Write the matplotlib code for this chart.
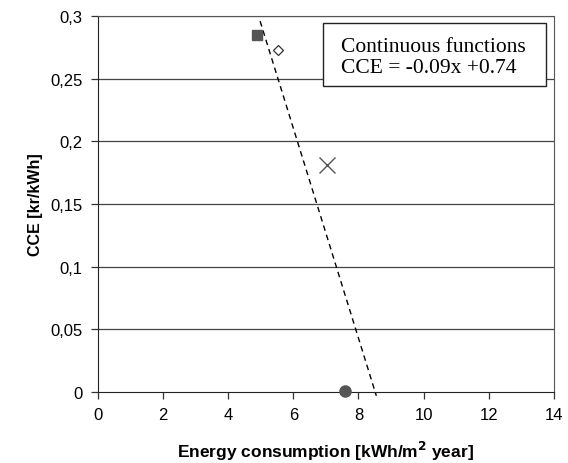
import matplotlib
matplotlib.use("Agg")
import matplotlib.pyplot as plt
from matplotlib.patches import Rectangle

# data
square_x, square_y = [4.88], [0.285]
diamond_x, diamond_y = [5.53], [0.273]
cross_x, cross_y = [7.03], [0.181]
circle_x, circle_y = [7.58], [0.001]

trend_x = [4.98, 8.55]
trend_y = [0.296, -0.003]

x_ticks = [0, 2, 4, 6, 8, 10, 12, 14]
y_ticks = [0, 0.05, 0.1, 0.15, 0.2, 0.25, 0.3]
y_labels = ["0", "0,05", "0,1", "0,15", "0,2", "0,25", "0,3"]

plt.rcParams["font.family"] = ["Liberation Sans", "DejaVu Sans"]

fig = plt.figure(figsize=(5.68, 4.64), dpi=100)
ax = fig.add_axes([0.1725, 0.153, 0.8025, 0.81])

for yv in y_ticks[1:]:
    ax.axhline(yv, color="#444444", linewidth=0.9, zorder=1)

ax.plot(trend_x, trend_y, linestyle=(0, (4, 3)), color="black",
        linewidth=1.0, zorder=2, clip_on=False)

ax.plot(square_x, square_y, "s", color="#555555", markersize=7, zorder=3)
ax.plot(diamond_x, diamond_y, "D", markerfacecolor="white",
        markeredgecolor="#333333", markersize=5.5, markeredgewidth=0.9, zorder=3)
ax.plot(cross_x, cross_y, "x", color="#555555", markersize=11,
        markeredgewidth=1.0, zorder=3)
ax.plot(circle_x, circle_y, "o", color="#555555", markersize=8,
        zorder=3, clip_on=False)

ax.set_xlim(0, 14)
ax.set_ylim(0, 0.3)
ax.set_xticks(x_ticks)
ax.set_yticks(y_ticks)
ax.set_yticklabels(y_labels)
ax.tick_params(direction="out", length=5, width=0.9, labelsize=12,
               color="#333333", pad=6)

for side in ["left", "bottom"]:
    ax.spines[side].set_color("#222222")
for side in ["top", "right"]:
    ax.spines[side].set_color("#555555")

ax.set_xlabel("Energy consumption [kWh/m$^{\\mathbf{2}}$ year]",
              fontsize=12.5, fontweight="bold", labelpad=12)
ax.set_ylabel("CCE [kr/kWh]", fontsize=11.5, fontweight="bold", labelpad=5)

# text box
ax.add_patch(Rectangle((6.91, 0.244), 6.84, 0.0505, facecolor="white",
                       edgecolor="#222222", linewidth=1.0, zorder=4))
ax.text(7.45, 0.2675, "Continuous functions\nCCE = -0.09x +0.74",
        ha="left", va="center", fontsize=15.5,
        family=["Liberation Serif", "DejaVu Serif"],
        linespacing=1.1, zorder=5)

fig.savefig("out.png", dpi=100)
